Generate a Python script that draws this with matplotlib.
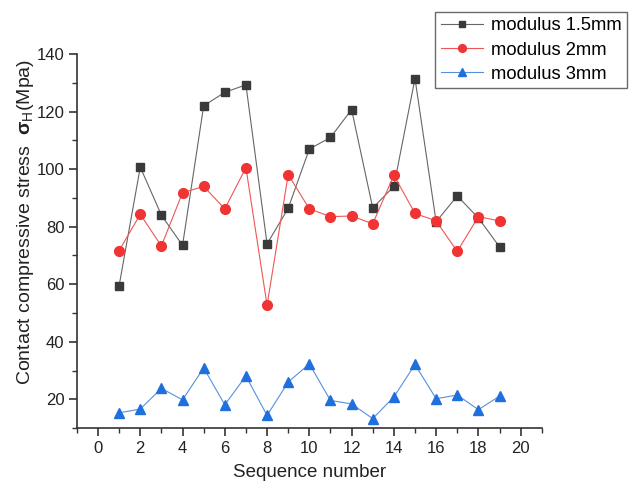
import matplotlib
matplotlib.use("Agg")
import matplotlib.pyplot as plt
from matplotlib.ticker import MultipleLocator

plt.rcParams['font.family'] = ['Liberation Sans', 'DejaVu Sans']
plt.rcParams['mathtext.fontset'] = 'custom'
plt.rcParams['mathtext.rm'] = 'Liberation Sans'
plt.rcParams['mathtext.bf'] = 'Liberation Sans:bold'

seq = list(range(1, 20))
mod_15 = [59.5, 100.7, 84.0, 73.5, 122.0, 126.7, 129.3, 74.0, 86.4, 107.0,
          111.0, 120.7, 86.5, 94.0, 131.5, 81.7, 90.7, 83.0, 73.0]
mod_2 = [71.7, 84.3, 73.3, 91.8, 94.0, 86.2, 100.5, 52.7, 98.1, 86.2,
         83.5, 83.7, 81.0, 97.9, 84.6, 82.0, 71.4, 83.5, 82.0]
mod_3 = [15.3, 16.6, 23.8, 19.8, 30.9, 18.1, 28.1, 14.4, 26.0, 32.3,
         19.6, 18.4, 13.3, 20.8, 32.1, 20.2, 21.5, 16.4, 21.1]
labels = ["modulus 1.5mm", "modulus 2mm", "modulus 3mm"]

fig = plt.figure(figsize=(6.3, 4.87), dpi=100)
ax = fig.add_axes([0.122, 0.121, 0.738, 0.768])

ax.plot(seq, mod_15, color='#666666', lw=0.8, marker='s', ms=6.0,
        mfc='#3a3a3a', mec='#3a3a3a', label=labels[0])
ax.plot(seq, mod_2, color='#f05555', lw=0.8, marker='o', ms=7.0,
        mfc='#f03333', mec='#f03333', label=labels[1])
ax.plot(seq, mod_3, color='#5590e0', lw=0.8, marker='^', ms=7.8,
        mfc='#1f6fdc', mec='#1f6fdc', label=labels[2])

ax.set_xlim(-1, 21)
ax.set_ylim(10, 140)
ax.xaxis.set_major_locator(MultipleLocator(2))
ax.xaxis.set_minor_locator(MultipleLocator(1))
ax.yaxis.set_major_locator(MultipleLocator(20))
ax.yaxis.set_minor_locator(MultipleLocator(10))
ax.spines['top'].set_visible(False)
ax.spines['right'].set_visible(False)
for s in ('left', 'bottom'):
    ax.spines[s].set_linewidth(1.2)
    ax.spines[s].set_color('#333333')
ax.tick_params(which='major', direction='out', length=5.5, width=1.2, pad=3.5,
               labelsize=12, colors='#333333', labelcolor='#222222')
ax.tick_params(which='minor', direction='out', length=3.5, width=1.0, colors='#333333')

ax.set_xlabel("Sequence number", fontsize=13.5, color='#222222', labelpad=6)
ax.set_ylabel("Contact compressive stress  $\\mathbf{σ}_{\\mathrm{H}}$(Mpa)",
              fontsize=14, color='#222222')
ax.yaxis.set_label_coords(-0.087, 0.55)

leg = fig.legend(loc='upper right', bbox_to_anchor=(0.996, 0.976), fontsize=13.2,
                 frameon=True, fancybox=False, edgecolor='#444444', borderaxespad=0,
                 handlelength=2.3, borderpad=0.3, labelspacing=0.4, handletextpad=0.45,
                 markerscale=0.8)
leg.get_frame().set_linewidth(1.0)

fig.savefig("out.png", dpi=100)
